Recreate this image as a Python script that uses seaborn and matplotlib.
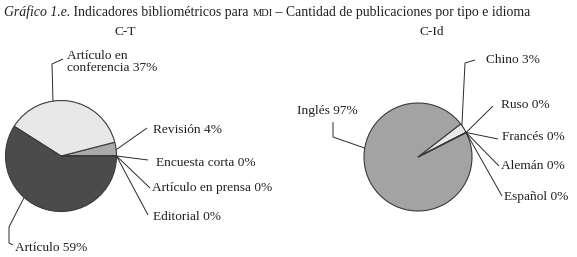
import numpy as np
import matplotlib
matplotlib.use("Agg")
import matplotlib.pyplot as plt
import seaborn as sns

# ---------------- data ----------------
tipos = ["Revisión", "Artículo en\nconferencia", "Artículo", "Encuesta corta",
         "Artículo en prensa", "Editorial"]
tipos_pct = [4, 37, 59, 0, 0, 0]
idiomas = ["Chino", "Inglés", "Ruso", "Francés", "Alemán", "Español"]
idiomas_pct = [3, 97, 0, 0, 0, 0]

titulo_ct = "C-T"
titulo_cid = "C-Id"

# ---------------- style ----------------
sns.set_theme(style="white")
plt.rcParams["font.family"] = ["Liberation Serif", "DejaVu Serif"]
TXT = "#231f20"
FS = 9.6

W, H = 577, 257
fig = plt.figure(figsize=(W / 100, H / 100), dpi=100)
ax = fig.add_axes([0, 0, 1, 1])
ax.set_xlim(0, W)
ax.set_ylim(0, H)
ax.set_aspect("equal")
ax.axis("off")


def Y(p):  # pixel row -> data y
    return H - p


col_tipos = ["#a9a9a9", "#e8e8e8", "#4b4b4b", "#ffffff", "#ffffff", "#ffffff"]
col_idiomas = ["#e8e8e8", "#a3a3a3", "#ffffff", "#ffffff", "#ffffff", "#ffffff"]

wedge_kw = dict(edgecolor="#3a3a3a", linewidth=0.8)

c1, r1 = (61, Y(156)), 55.5
c2, r2 = (418, Y(157)), 54
w1, _ = ax.pie(tipos_pct, colors=col_tipos, startangle=0, counterclock=True,
               center=c1, radius=r1, wedgeprops=wedge_kw, frame=True)
w2, _ = ax.pie(idiomas_pct, colors=col_idiomas, startangle=27, counterclock=True,
               center=c2, radius=r2, wedgeprops=wedge_kw, frame=True)
ax.set_xlim(0, W)
ax.set_ylim(0, H)
ax.axis("off")

# leader layout: (anchor fraction in wedge, elbow points in px, text pos in px)
lay1 = [
    (0.45, [(147, 128)], (153, 130)),
    (0.63, [(52, 64), (63, 59)], (67, 62)),
    (0.38, [(9, 227), (9, 243), (13, 245)], (15, 248)),
    (0.5, [(148, 160)], (156, 163)),
    (0.5, [(150, 188)], (152, 188)),
    (0.5, [(148, 215)], (153, 217)),
]
lay2 = [
    (0.8, [(465, 63), (475, 60)], (486, 60)),
    (0.38, [(333, 137), (333, 122)], (301, 111)),
    (0.5, [(493, 106)], (501, 105)),
    (0.5, [(498, 139)], (502, 137)),
    (0.5, [(499, 166)], (501, 166)),
    (0.5, [(502, 196)], (504, 197)),
]


def draw(wedges, names, vals, center, r, lay):
    for w, n, v, (f, elbows, tpos) in zip(wedges, names, vals, lay):
        a = np.deg2rad(w.theta1 + f * (w.theta2 - w.theta1))
        p0 = (center[0] + r * np.cos(a), center[1] + r * np.sin(a))
        pts = [p0] + [(x, Y(y)) for x, y in elbows]
        ax.plot([p[0] for p in pts], [p[1] for p in pts], color="#2a2a2a",
                lw=0.7, solid_capstyle="butt")
        ha = "right" if n == "Inglés" else "left"
        tx = 358 if n == "Inglés" else tpos[0]
        ax.text(tx, Y(tpos[1]), f"{n} {v}%", ha=ha, va="center",
                fontsize=FS, color=TXT, linespacing=1.0)


draw(w1, tipos, tipos_pct, c1, r1, lay1)
draw(w2, idiomas, idiomas_pct, c2, r2, lay2)

ax.text(125, Y(32), titulo_ct, ha="center", va="center", fontsize=FS, color=TXT)
ax.text(432, Y(32), titulo_cid, ha="center", va="center", fontsize=FS, color=TXT)

# title composed of pieces
fig.canvas.draw()
rend = fig.canvas.get_renderer()
TS = 9.95
parts = [("Gráfico 1.e.", "italic", TS), (" Indicadores bibliométricos para ", "normal", TS),
         ("MDI", "normal", TS * 0.76), (" – Cantidad de publicaciones por tipo e idioma", "normal", TS)]
x = 4
inv = ax.transData.inverted()
for s, st, fs in parts:
    t = ax.text(x, Y(16), s, ha="left", va="baseline", fontsize=fs, style=st, color=TXT)
    bb = t.get_window_extent(renderer=rend)
    x = inv.transform((bb.x1, bb.y0))[0]

fig.savefig("out.png", dpi=100, facecolor="white")
